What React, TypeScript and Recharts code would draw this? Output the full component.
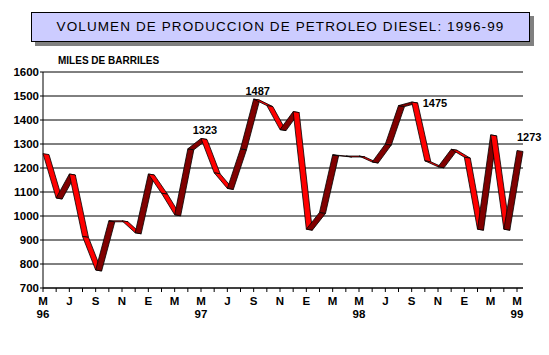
import { LineChart, Line, XAxis, YAxis, CartesianGrid, LabelList } from "recharts";

// Meses de mayo 1996 a mayo 1999
const MESES = [
  "M", "J", "J", "A", "S", "O", "N", "D",
  "E", "F", "M", "A", "M", "J", "J", "A", "S", "O", "N", "D",
  "E", "F", "M", "A", "M", "J", "J", "A", "S", "O", "N", "D",
  "E", "F", "M", "A", "M",
];
const ANIOS = ["96", "97", "98", "99"];

// Miles de barriles
const VOLUMEN = [
  1260, 1075, 1175, 915, 775, 980, 980, 930,
  1175, 1095, 1005, 1280, 1323, 1180, 1115, 1280, 1487, 1460, 1360, 1435,
  945, 1015, 1255, 1250, 1250, 1225, 1300, 1460, 1475, 1230, 1205, 1278,
  1245, 945, 1338, 945, 1273,
];

// indices con etiqueta de valor
const ETIQUETAS = [12, 16, 28, 36];
const Y_TICKS = [700, 800, 900, 1000, 1100, 1200, 1300, 1400, 1500, 1600];

const data = MESES.map((mes, i) => ({ mes, volumen: VOLUMEN[i] }));

const FONT = "'Liberation Sans', Arial, sans-serif";

// cinta 3D entre cada punto y el siguiente
const Cinta = (props: any) => {
  const { cx, cy, index, points } = props;
  const next = points ? points[index + 1] : null;
  if (!next) return <g key={`seg-${index}`} />;
  const dx = 6;
  const dy = 1;
  const baja = next.y >= cy;
  const pts = `${cx},${cy} ${next.x},${next.y} ${next.x + dx},${next.y + dy} ${cx + dx},${cy + dy}`;
  return (
    <polygon
      key={`seg-${index}`}
      points={pts}
      fill={baja ? "#ff0000" : "#800000"}
      stroke="#000"
      strokeWidth={0.8}
      strokeLinejoin="round"
    />
  );
};

const Etiqueta = (props: any) => {
  const { x, y, value, index } = props;
  if (!ETIQUETAS.includes(index)) return null;
  const style = { fontFamily: FONT, fontSize: 11, fontWeight: 700, fill: "#000" };
  if (index === 28) {
    return <text x={x + 11} y={y + 4.5} style={style}>{value}</text>;
  }
  if (index === 36) {
    return <text x={x} y={y - 9} style={style}>{value}</text>;
  }
  return <text x={x + 4} y={y - 4} textAnchor="middle" style={style}>{value}</text>;
};

const MesTick = (props: any) => {
  const { x, y, payload, index } = props;
  if (index % 2 !== 0) return <g />;
  const anio = index % 12 === 0 ? ANIOS[index / 12] : null;
  const style = { fontFamily: FONT, fontSize: 11.5, fontWeight: 700, fill: "#000" };
  return (
    <g>
      <text x={x} y={y} dy={9} textAnchor="middle" style={style}>{payload.value}</text>
      {anio && (
        <text x={x} y={y} dy={22} textAnchor="middle" style={style}>{anio}</text>
      )}
    </g>
  );
};

const ValorTick = (props: any) => {
  const { x, y, payload } = props;
  return (
    <text x={x} y={y} dy={4} textAnchor="end"
      style={{ fontFamily: FONT, fontSize: 11.5, fontWeight: 700, fill: "#000" }}>
      {payload.value}
    </text>
  );
};

export default function App() {
  return (
    <div style={{ position: "absolute", left: 0, top: 0, width: 549, height: 355, background: "#fff" }}>
      <div
        style={{
          position: "absolute", left: 31, top: 12, width: 497, height: 28,
          border: "1px solid #000", background: "#ccccff",
          boxShadow: "4px 4px 0 #808080",
          fontFamily: FONT, fontSize: 13.5, letterSpacing: 1.1,
          lineHeight: "28px", textAlign: "center", whiteSpace: "nowrap",
        }}
      >
        VOLUMEN DE PRODUCCION DE PETROLEO DIESEL: 1996-99
      </div>
      <div
        style={{
          position: "absolute", left: 58, top: 55, fontFamily: FONT,
          fontSize: 10, fontWeight: 700, whiteSpace: "nowrap",
        }}
      >
        MILES DE BARRILES
      </div>
      <LineChart width={549} height={355} data={data}
        margin={{ top: 72, right: 26, left: 0, bottom: 37 }}>
        <CartesianGrid vertical={false} stroke="#000" strokeWidth={1} />
        <XAxis dataKey="mes" interval={0} height={30} padding={{ left: 0, right: 6 }}
          axisLine={{ stroke: "#000" }} tickLine={{ stroke: "#000" }}
          tickSize={4} tickMargin={4} tick={<MesTick />} />
        <YAxis width={43} domain={[700, 1600]} ticks={Y_TICKS} interval={0}
          axisLine={{ stroke: "#000" }} tickLine={{ stroke: "#000" }}
          tickSize={3} tickMargin={1} tick={<ValorTick />} />
        <Line dataKey="volumen" stroke="none" dot={<Cinta />} activeDot={false}
          isAnimationActive={false}>
          <LabelList dataKey="volumen" content={<Etiqueta />} />
        </Line>
      </LineChart>
    </div>
  );
}
